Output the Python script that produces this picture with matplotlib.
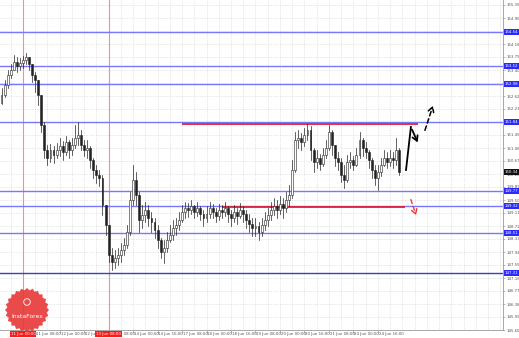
import numpy as np
import matplotlib
matplotlib.use("Agg")
import matplotlib.pyplot as plt
from matplotlib.patches import Rectangle, Polygon, Circle
from matplotlib.transforms import blended_transform_factory

# --- data (2h candles) ---
first_open = 152.40
closes = [152.65, 152.95, 153.25, 153.40, 153.64, 153.52, 153.61, 153.70, 153.79, 153.58,
          153.25, 153.10, 152.65, 151.75, 151.00, 150.76, 151.00, 150.85, 151.00, 151.12,
          150.94, 151.24, 151.00, 151.15, 151.36, 151.45, 151.15, 151.00, 151.06, 150.70,
          150.40, 150.25, 150.16, 149.35, 148.75, 147.85, 147.64, 147.76, 147.85, 148.00,
          148.15, 148.54, 149.50, 150.10, 149.65, 148.90, 149.05, 149.20, 148.96, 148.84,
          148.60, 148.30, 147.94, 148.06, 148.30, 148.45, 148.66, 148.75, 148.90, 149.14,
          149.26, 149.20, 149.32, 149.14, 149.26, 149.08, 148.96, 149.08, 149.26, 149.14,
          149.02, 149.20, 149.14, 149.26, 149.08, 148.96, 149.14, 149.02, 149.20, 149.08,
          148.90, 148.78, 148.66, 148.72, 148.54, 148.75, 148.90, 149.05, 149.20, 149.32,
          149.20, 149.38, 149.26, 149.50, 149.65, 150.40, 151.30, 151.36, 151.24, 151.45,
          151.60, 151.00, 150.64, 150.76, 150.58, 150.85, 151.06, 151.54, 151.15, 150.76,
          150.64, 150.25, 150.10, 150.64, 150.70, 150.55, 150.85, 151.30, 151.06, 150.94,
          150.70, 150.40, 150.16, 150.34, 150.55, 150.76, 150.64, 150.76, 150.70, 151.00,
          150.34]
highs = [152.86, 153.10, 153.40, 153.58, 153.85, 153.79, 153.76, 153.82, 153.91, 153.76,
         153.52, 153.34, 153.04, 152.65, 151.84, 151.15, 151.18, 151.12, 151.21, 151.36,
         151.27, 151.42, 151.30, 151.36, 151.75, 151.84, 151.60, 151.30, 151.30, 151.12,
         150.76, 150.55, 150.40, 150.25, 149.35, 148.75, 148.06, 148.00, 148.06, 148.21,
         148.36, 148.75, 149.74, 150.55, 150.34, 149.74, 149.35, 149.44, 149.35, 149.14,
         148.96, 148.75, 148.36, 148.30, 148.54, 148.75, 148.90, 148.96, 149.14, 149.35,
         149.44, 149.41, 149.50, 149.35, 149.44, 149.32, 149.20, 149.32, 149.44, 149.38,
         149.26, 149.38, 149.35, 149.44, 149.32, 149.20, 149.35, 149.26, 149.41, 149.32,
         149.20, 149.08, 148.96, 148.96, 148.84, 148.96, 149.14, 149.26, 149.44, 149.56,
         149.50, 149.62, 149.56, 149.74, 149.95, 150.70, 151.54, 151.60, 151.51, 151.66,
         151.78, 151.72, 151.06, 151.00, 150.88, 151.06, 151.30, 151.75, 151.60, 151.12,
         150.94, 150.76, 150.55, 150.85, 150.94, 150.82, 151.06, 151.54, 151.36, 151.24,
         151.00, 150.76, 150.55, 150.55, 150.76, 151.00, 150.94, 151.00, 150.94, 151.36,
         151.06]
lows = [152.38, 152.59, 152.86, 153.16, 153.40, 153.34, 153.40, 153.46, 153.58, 153.40,
        153.04, 152.74, 152.35, 151.54, 150.76, 150.55, 150.64, 150.61, 150.76, 150.82,
        150.70, 150.85, 150.76, 150.85, 151.06, 151.15, 151.00, 150.82, 150.76, 150.46,
        150.16, 150.01, 149.92, 149.05, 148.45, 147.64, 147.40, 147.46, 147.55, 147.64,
        147.85, 148.06, 148.45, 149.35, 149.35, 148.54, 148.66, 148.84, 148.72, 148.54,
        148.36, 148.06, 147.76, 147.61, 147.94, 148.24, 148.30, 148.45, 148.60, 148.84,
        148.96, 148.99, 149.08, 148.96, 149.02, 148.90, 148.72, 148.84, 148.96, 148.96,
        148.84, 148.90, 148.96, 149.02, 148.84, 148.72, 148.84, 148.78, 148.96, 148.84,
        148.66, 148.54, 148.42, 148.42, 148.30, 148.42, 148.60, 148.72, 148.90, 149.05,
        148.96, 149.08, 148.96, 149.14, 149.32, 149.56, 150.34, 151.06, 151.00, 151.12,
        151.30, 150.70, 150.34, 150.46, 150.40, 150.52, 150.76, 151.00, 150.85, 150.52,
        150.40, 150.04, 149.86, 150.04, 150.46, 150.40, 150.52, 150.76, 150.82, 150.76,
        150.46, 150.16, 149.95, 149.80, 150.22, 150.52, 150.46, 150.52, 150.46, 150.55,
        150.25]
opens = [first_open] + closes[:-1]

x_label_pos = [3, 11, 19, 27, 35, 43, 51, 59, 67, 75, 83, 91, 99, 107, 115, 123]
x_labels = ["10 Jun 16:00", "11 Jun 08:00", "12 Jun 00:00", "12 Jun 16:00",
            "13 Jun 08:00", "14 Jun 00:00", "14 Jun 16:00", "17 Jun 08:00",
            "18 Jun 00:00", "18 Jun 16:00", "19 Jun 08:00", "20 Jun 00:00",
            "20 Jun 16:00", "21 Jun 08:00", "24 Jun 00:00", "24 Jun 16:00"]
marker_pos = [7, 35]
marker_labels = ["11 Jun 00:00", "13 Jun 08:00"]

levels = [154.54, 153.52, 152.98, 151.84, 149.77, 149.32, 148.51, 147.31]
level_colors = ["#7878ff"] * 7 + ["#3c3cc8"]
red_levels = [151.78, 149.29]
red_start = [59, 72]
red_end = [136, 132]

# forecast arrows (candle index, price)
path_up_x = [132.2, 133.8, 136.4]
path_up_y = [150.40, 151.69, 151.15]
dash_up = [(138.1, 151.51), (141.3, 152.41)]
dash_down = [(133.5, 149.59), (135.8, 148.96)]

# --- figure ---
W, H = 519, 338
fig = plt.figure(figsize=(W / 100, H / 100), dpi=100)
ax = fig.add_axes([0, 8 / H, 503 / W, 330 / H])
ax.set_xlim(-0.5, 163.9)
ax.set_ylim(145.60, 155.50)

FS = 2.8
yticks = np.round(155.35 - 0.39 * np.arange(26), 2)
ax.set_yticks(yticks)
ax.yaxis.tick_right()
ax.set_yticklabels([f"{v:.2f}" for v in yticks], fontsize=FS, color="#555555")
ax.tick_params(axis="y", length=1.5, width=0.4, pad=1.0, color="#888888")

ax.set_xticks(x_label_pos)
ax.set_xticklabels([])
ax.tick_params(axis="x", length=2, width=0.4, color="#888888")
xtr = blended_transform_factory(ax.transData, ax.transAxes)
for p, lab in zip(x_label_pos, x_labels):
    ax.text(p + 0.3, -0.006, lab, transform=xtr, fontsize=FS, color="#555555",
            ha="left", va="top", clip_on=False)

# grid
for gx in np.arange(3, 164, 4):
    ax.axvline(gx, color="#d2d2d2", lw=0.5, ls=(0, (1, 1.5)), zorder=0)
for gy in yticks:
    ax.axhline(gy, color="#d2d2d2", lw=0.5, ls=(0, (1, 1.5)), zorder=0)

for s in ["top", "left"]:
    ax.spines[s].set_visible(False)
for s in ["right", "bottom"]:
    ax.spines[s].set_color("#999999")
    ax.spines[s].set_linewidth(0.6)

# time markers
for p, lab in zip(marker_pos, marker_labels):
    ax.axvline(p, color="#ff8a8a", lw=0.8, zorder=1)
    ax.text(p, -0.006, lab, transform=xtr, fontsize=FS, color="white", ha="center",
            va="top", clip_on=False, zorder=8,
            bbox=dict(boxstyle="square,pad=0.2", fc="#ff1a1a", ec="none"))

# levels
ytr = blended_transform_factory(ax.transAxes, ax.transData)
for lv, col in zip(levels, level_colors):
    ax.axhline(lv, color=col, lw=1.0, zorder=1)
    ax.text(1.003, lv, f"{lv:.2f}", transform=ytr, fontsize=FS, color="white",
            ha="left", va="center", clip_on=False, zorder=8,
            bbox=dict(boxstyle="square,pad=0.25", fc="#2a2aff", ec="none"))
for lv, a, b in zip(red_levels, red_start, red_end):
    ax.plot([a, b], [lv, lv], color="#e0203a", lw=1.3, zorder=2, solid_capstyle="butt")

# candles
bw = 0.62
for i, (o, h, l, c) in enumerate(zip(opens, highs, lows, closes)):
    top, bot = max(o, c), min(o, c)
    ax.plot([i, i], [min(l, bot), max(h, top)], color="#222222", lw=0.5, zorder=3)
    fc = "white" if c >= o else "#222222"
    ax.add_patch(Rectangle((i - bw / 2, bot), bw, max(top - bot, 0.01), fc=fc,
                           ec="#222222", lw=0.4, zorder=4))

ax.text(1.003, closes[-1], f"{closes[-1]:.2f}", transform=ytr, fontsize=FS, color="white",
        ha="left", va="center", clip_on=False, zorder=8,
        bbox=dict(boxstyle="square,pad=0.25", fc="#111111", ec="none"))

# forecast arrows
ax.plot(path_up_x[:2], path_up_y[:2], color="black", lw=1.3, zorder=6)
ax.annotate("", xy=(path_up_x[2], path_up_y[2]), xytext=(path_up_x[1], path_up_y[1]),
            arrowprops=dict(arrowstyle="->,head_length=0.35,head_width=0.2", color="black", lw=1.3),
            zorder=6)
ax.annotate("", xy=dash_up[1], xytext=dash_up[0],
            arrowprops=dict(arrowstyle="->,head_length=0.35,head_width=0.2", color="black",
                            lw=1.1, ls=(0, (3, 2))), zorder=6)
ax.annotate("", xy=dash_down[1], xytext=dash_down[0],
            arrowprops=dict(arrowstyle="->,head_length=0.35,head_width=0.2", color="#e83a3a",
                            lw=1.0, ls=(0, (3, 2))), zorder=6)

# logo seal
r = 22
n = 48
ang = np.linspace(0, 2 * np.pi, n, endpoint=False)
rad = np.where(np.arange(n) % 2 == 0, r, r * 0.9)
pts = np.c_[27 + rad * np.cos(ang), (H - 310) + rad * np.sin(ang)]
fig.patches.append(Polygon(pts, closed=True, transform=None, fc="#e83b3b", ec="none",
                           alpha=0.92, zorder=10))
fig.patches.append(Circle((27, H - 302), 3.3, transform=None, fc="none", ec="white",
                          lw=0.6, zorder=11))
fig.text(27 / W, (H - 317) / H, "InstaForex", color="white", fontsize=4.4,
         ha="center", va="center", zorder=12)

fig.savefig("out.png", dpi=100)
